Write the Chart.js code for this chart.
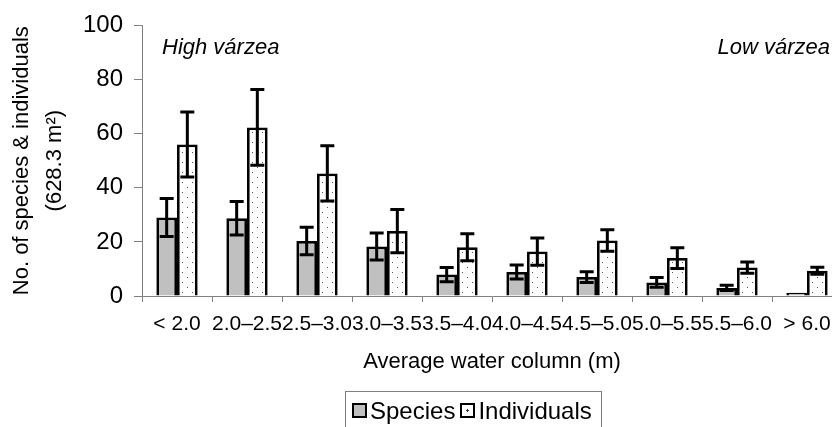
<!DOCTYPE html>
<html>
<head>
<meta charset="utf-8">
<script src="https://cdn.jsdelivr.net/npm/chart.js@4.4.1/dist/chart.umd.min.js"></script>
<style>
    html, body {
        margin: 0;
        padding: 0;
        background: #fff;
        width: 832px;
        height: 427px;
        overflow: hidden;
    }
    #wrap {
        position: relative;
        width: 832px;
        height: 427px;
        overflow: hidden;
    }
    #chart {
        position: absolute;
        left: 0;
        top: 0;
    }
    #legend {
        position: absolute;
        left: 345px;
        top: 391px;
        height: 40px;
        border: 1px solid #808080;
        display: flex;
        align-items: flex-start;
        padding: 6px 4px 0 6px;
        font-family: "Liberation Sans", Arial, sans-serif;
        font-size: 24px;
        line-height: 25px;
        color: #000;
        box-sizing: border-box;
    }
    .item {
        display: flex;
        align-items: center;
        margin-right: 5px;
    }
    .swatch {
        width: 15px;
        height: 15px;
        border: 2px solid #000;
        box-sizing: border-box;
        margin-right: 3px;
    }
</style>
</head>
<body>
<div id="wrap">
    <canvas id="chart" width="842" height="427"></canvas>
    <div id="legend"></div>
</div>
<script>
const categories = ['< 2.0', '2.0–2.5', '2.5–3.0', '3.0–3.5', '3.5–4.0', '4.0–4.5', '4.5–5.0', '5.0–5.5', '5.5–6.0', '> 6.0'];
const speciesValues = [29, 28.7, 20.3, 18.3, 7.9, 8.9, 7.0, 5.0, 3.0, 1.2];
const speciesErrors = [7, 6.2, 5.1, 5, 2.6, 2.6, 2.0, 1.8, 1.0, 0];
const individualValues = [56, 62.3, 45.3, 24, 18, 16.4, 20.5, 14, 10.5, 9.3];
const individualErrors = [12, 14, 10.2, 8, 5, 5, 4, 3.8, 2.1, 1.3];
const yTicks = [0, 20, 40, 60, 80, 100];

const FONT = '"Liberation Sans", Arial, sans-serif';

// dotted fill for the individuals bars
function makeDots() {
    const c = document.createElement('canvas');
    c.width = 10;
    c.height = 10;
    const g = c.getContext('2d');
    g.fillStyle = '#fff';
    g.fillRect(0, 0, 10, 10);
    g.fillStyle = '#555';
    g.fillRect(2, 2, 1, 1);
    g.fillRect(7, 7, 1, 1);
    return g.createPattern(c, 'repeat');
}
const dots = makeDots();

const errorBars = {
    id: 'errorBars',
    afterDatasetsDraw(chart) {
        const ctx = chart.ctx;
        const y = chart.scales.y;
        ctx.save();
        ctx.strokeStyle = '#000';
        ctx.lineWidth = 3;
        chart.data.datasets.forEach((ds, di) => {
            const meta = chart.getDatasetMeta(di);
            meta.data.forEach((bar, i) => {
                const err = ds.errors[i];
                if (!err) return;
                const v = ds.data[i];
                const top = y.getPixelForValue(v + err);
                const bot = y.getPixelForValue(v - err);
                const x = bar.x;
                ctx.beginPath();
                ctx.moveTo(x, top);
                ctx.lineTo(x, bot);
                ctx.moveTo(x - 7, top);
                ctx.lineTo(x + 7, top);
                ctx.moveTo(x - 7, bot);
                ctx.lineTo(x + 7, bot);
                ctx.stroke();
            });
        });
        ctx.restore();
    }
};

const zoneLabels = {
    id: 'zoneLabels',
    afterDraw(chart) {
        const ctx = chart.ctx;
        const a = chart.chartArea;
        ctx.save();
        ctx.fillStyle = '#000';
        ctx.font = 'italic 22px ' + FONT;
        ctx.textBaseline = 'alphabetic';
        ctx.textAlign = 'left';
        ctx.fillText('High várzea', a.left + 20, 54);
        ctx.textAlign = 'right';
        ctx.fillText('Low várzea', 830, 54);
        ctx.restore();
    }
};

const chart = new Chart(document.getElementById('chart'), {
    type: 'bar',
    data: {
        labels: categories,
        datasets: [{
            label: 'Species',
            data: speciesValues,
            errors: speciesErrors,
            backgroundColor: '#c0c0c0',
            borderColor: '#000',
            borderWidth: 2.75
        }, {
            label: 'Individuals',
            data: individualValues,
            errors: individualErrors,
            backgroundColor: dots,
            borderColor: '#000',
            borderWidth: 2.75
        }]
    },
    options: {
        responsive: false,
        animation: false,
        devicePixelRatio: 1,
        layout: { padding: { left: 0, right: 0, top: 20, bottom: 0 } },
        datasets: {
            bar: { categoryPercentage: 0.59, barPercentage: 1.0 }
        },
        plugins: {
            legend: { display: false },
            tooltip: { enabled: false }
        },
        scales: {
            x: {
                offset: true,
                grid: {
                    offset: true,
                    drawOnChartArea: false,
                    drawTicks: true,
                    tickLength: 6,
                    color: '#808080'
                },
                border: { color: '#808080', width: 1 },
                ticks: {
                    color: '#000',
                    font: { family: FONT, size: 21 },
                    padding: 10,
                    maxRotation: 0,
                    autoSkip: false
                },
                title: {
                    display: true,
                    text: 'Average water column (m)',
                    color: '#000',
                    font: { family: FONT, size: 22 },
                    padding: { top: 0, bottom: 52 }
                },
                afterFit(s) { s.height = 131; }
            },
            y: {
                min: 0,
                max: 100,
                grid: {
                    drawOnChartArea: false,
                    drawTicks: true,
                    tickLength: 8,
                    color: '#808080'
                },
                border: { color: '#808080', width: 1 },
                afterBuildTicks(s) { s.ticks = yTicks.map(v => ({ value: v })); },
                ticks: {
                    color: '#000',
                    font: { family: FONT, size: 24 },
                    padding: 11
                },
                title: {
                    display: true,
                    text: ['No. of species & individuals', '(628.3 m²)'],
                    color: '#000',
                    font: { family: FONT, size: 22, lineHeight: 1.5 },
                    padding: { top: 5, bottom: 0 }
                },
                afterFit(s) { s.width = 142; }
            }
        }
    },
    plugins: [errorBars, zoneLabels]
});

// html legend built from the datasets
const legend = document.getElementById('legend');
chart.data.datasets.forEach(ds => {
    const item = document.createElement('div');
    item.className = 'item';
    const sw = document.createElement('span');
    sw.className = 'swatch';
    if (ds.label === 'Species') {
        sw.style.background = ds.backgroundColor;
    } else {
        sw.style.background = 'radial-gradient(circle at 50% 50%, #333 0 1px, #fff 1.2px)';
    }
    const txt = document.createElement('span');
    txt.textContent = ds.label;
    item.appendChild(sw);
    item.appendChild(txt);
    legend.appendChild(item);
});
</script>
</body>
</html>
